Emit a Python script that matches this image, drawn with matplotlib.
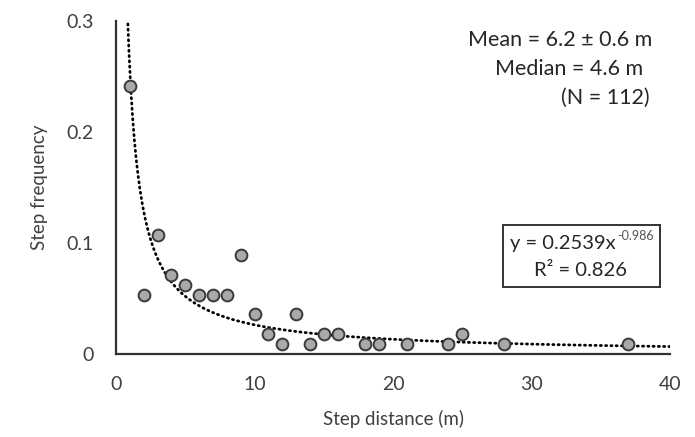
import numpy as np
import matplotlib.pyplot as plt
from matplotlib.patches import Rectangle

plt.rcParams['font.family'] = ['Lato', 'DejaVu Sans']

# step distance (m) and step frequency (counts out of N = 112)
step_dist = [1, 2, 3, 4, 5, 6, 7, 8, 9, 10, 11, 12, 13, 14, 15, 16, 18, 19, 21, 24, 25, 28, 37]
step_count = [27, 6, 12, 8, 7, 6, 6, 6, 10, 4, 2, 1, 4, 1, 2, 2, 1, 1, 1, 1, 2, 1, 1]
n_total = 112
step_freq = np.array(step_count) / n_total

# power-law trendline y = a * x^b
fit_a = 0.2539
fit_b = -0.986
fit_r2 = 0.826

x_ticks = [0, 10, 20, 30, 40]
y_ticks = [0, 0.1, 0.2, 0.3]
y_ticklabels = ['0', '0.1', '0.2', '0.3']

txt = '#404040'
dark = '#262626'
W, H = 695, 437
fig = plt.figure(figsize=(6.95, 4.37), dpi=100)
ax = fig.add_axes([0.167, 0.19, 0.797, 0.762])

xf = np.linspace(0.8, 40, 600)
ax.plot(xf, fit_a * xf ** fit_b, color='black', lw=2.0, ls=(0, (0.4, 1.5)),
        dash_capstyle='round', zorder=2)
ax.scatter(step_dist, step_freq, s=72, facecolor='#a9a9a9', edgecolor='#3a3a3a',
           linewidth=1.4, zorder=3)

ax.set_xlim(0, 40)
ax.set_ylim(0, 0.3)
ax.set_xticks(x_ticks)
ax.set_yticks(y_ticks)
ax.set_yticklabels(y_ticklabels)
ax.tick_params(length=0, labelsize=14, labelcolor=txt)
ax.tick_params(axis='y', pad=16)
ax.tick_params(axis='x', pad=16)
for s in ['top', 'right']:
    ax.spines[s].set_visible(False)
for s in ['left', 'bottom']:
    ax.spines[s].set_color('#333333')
    ax.spines[s].set_linewidth(1.6)

ax.set_xlabel('Step distance (m)', fontsize=13.5, color=txt, labelpad=12)
ax.set_ylabel('Step frequency', fontsize=13.5, color=txt, labelpad=13)

fig.text(652 / W, 1 - 40 / H, 'Mean = 6.2 ± 0.6 m', ha='right', va='center',
         fontsize=15.5, color=dark)
fig.text(643 / W, 1 - 69 / H, 'Median = 4.6 m', ha='right', va='center',
         fontsize=15.5, color=dark)
fig.text(650 / W, 1 - 98 / H, f'(N = {n_total})', ha='right', va='center',
         fontsize=15.5, color=dark)

# trendline equation box
fig.add_artist(Rectangle((503 / W, 1 - 287 / H), 157 / W, 62 / H, transform=fig.transFigure,
                         facecolor='white', edgecolor='#333333', linewidth=1.4))
eq = fig.text(0, 1 - 243 / H, f'y = {fit_a}x', ha='left', va='center',
              fontsize=14.5, color=dark)
sup = fig.text(0, 1 - 236 / H, f'{fit_b}', ha='left', va='center', fontsize=9, color='#555555')
fig.canvas.draw()
base_w = eq.get_window_extent().width
sup_w = sup.get_window_extent().width
left = 582 - (base_w + sup_w + 1) / 2
eq.set_x(left / W)
sup.set_x((left + base_w + 1) / W)
fig.text(581 / W, 1 - 270 / H, f'R² = {fit_r2}', ha='center', va='center',
         fontsize=14.5, color=dark)

fig.savefig('out.png', dpi=100)
